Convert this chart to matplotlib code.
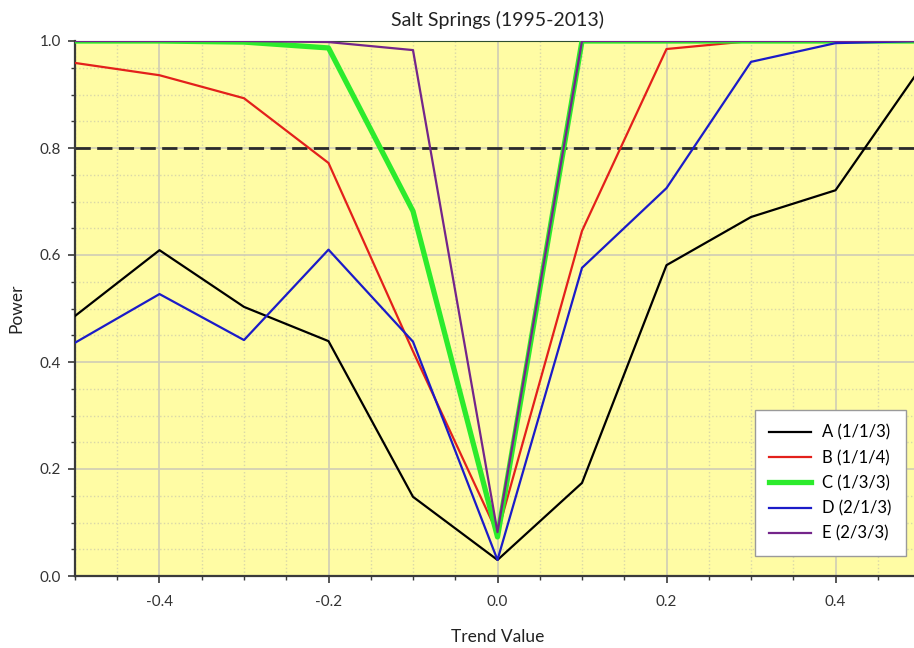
import matplotlib
matplotlib.use("Agg")
import matplotlib.pyplot as plt
from matplotlib.ticker import MultipleLocator, FormatStrFormatter

plt.rcParams['font.family'] = ['Lato', 'DejaVu Sans']
plt.rcParams['axes.unicode_minus'] = False

trend = [-0.5, -0.4, -0.3, -0.2, -0.1, 0.0, 0.1, 0.2, 0.3, 0.4, 0.5]
power_a = [0.486, 0.609, 0.503, 0.439, 0.148, 0.030, 0.174, 0.581, 0.671, 0.721, 0.948]
power_b = [0.959, 0.936, 0.893, 0.772, 0.420, 0.080, 0.645, 0.985, 1.000, 1.000, 1.000]
power_c = [1.000, 1.000, 0.998, 0.987, 0.682, 0.073, 1.000, 1.000, 1.000, 1.000, 1.000]
power_d = [0.436, 0.527, 0.441, 0.610, 0.438, 0.030, 0.576, 0.725, 0.961, 0.996, 1.000]
power_e = [1.000, 1.000, 1.000, 0.998, 0.983, 0.082, 1.000, 1.000, 1.000, 1.000, 1.000]
labels = ["A (1/1/3)", "B (1/1/4)", "C (1/3/3)", "D (2/1/3)", "E (2/3/3)"]
threshold = 0.8

fig = plt.figure(figsize=(9.14, 6.48), dpi=100)
ax = fig.add_axes([75/914, 72/648, 845/914, 535/648])
ax.set_facecolor('#FFFCA4')

ax.set_xlim(-0.5, 0.5)
ax.set_ylim(0.0, 1.0)
ax.xaxis.set_major_locator(MultipleLocator(0.2))
ax.xaxis.set_minor_locator(MultipleLocator(0.05))
ax.yaxis.set_major_locator(MultipleLocator(0.2))
ax.yaxis.set_minor_locator(MultipleLocator(0.05))
ax.xaxis.set_major_formatter(FormatStrFormatter('%.1f'))
ax.yaxis.set_major_formatter(FormatStrFormatter('%.1f'))

ax.grid(which='major', color='#CFCDB6', linewidth=1.2, linestyle='-')
ax.grid(which='minor', color='#D9D7A8', linewidth=1.0, linestyle=':')
ax.set_axisbelow(True)

ax.axhline(threshold, color='#2B2B2B', linewidth=2.0, dashes=(5.5, 2.3), zorder=2)

ax.plot(trend, power_a, color='#000000', linewidth=1.6, label=labels[0], zorder=3)
ax.plot(trend, power_b, color='#E3201B', linewidth=1.6, label=labels[1], zorder=3)
ax.plot(trend, power_c, color='#2CEB2C', linewidth=3.8, label=labels[2], zorder=3)
ax.plot(trend, power_d, color='#1B1BC8', linewidth=1.6, label=labels[3], zorder=3)
ax.plot(trend, power_e, color='#74258A', linewidth=1.6, label=labels[4], zorder=3)

for s in ['left', 'bottom']:
    ax.spines[s].set_color('#3A3A3A')
    ax.spines[s].set_linewidth(1.6)
ax.spines['top'].set_color('#2F4F2F')
ax.spines['top'].set_linewidth(0.8)
ax.spines['right'].set_visible(False)

ax.tick_params(which='major', direction='out', length=5, width=1.2, color='#3A3A3A',
               labelsize=11, labelcolor='#333333')
ax.tick_params(axis='x', which='major', pad=9)
ax.tick_params(axis='y', which='major', pad=5)
ax.tick_params(which='minor', direction='out', length=3, width=1.0, color='#3A3A3A')
ax.tick_params(top=False, right=False, which='both')

ax.set_title('Salt Springs (1995-2013)', fontsize=14, color='#222222', pad=11)
ax.set_xlabel('Trend Value', fontsize=12.5, color='#222222', labelpad=14)
ax.set_ylabel('Power', fontsize=12.5, color='#222222', labelpad=11)

leg = ax.legend(loc='lower right', bbox_to_anchor=(1 - 14/845, 20/535), borderaxespad=0,
                fontsize=12, frameon=True, fancybox=False, framealpha=1,
                edgecolor='#9A9A9A', handlelength=2.5, labelspacing=0.55,
                borderpad=0.85, handletextpad=0.7)
leg.get_frame().set_linewidth(1.0)

fig.savefig('out.png', dpi=100)
